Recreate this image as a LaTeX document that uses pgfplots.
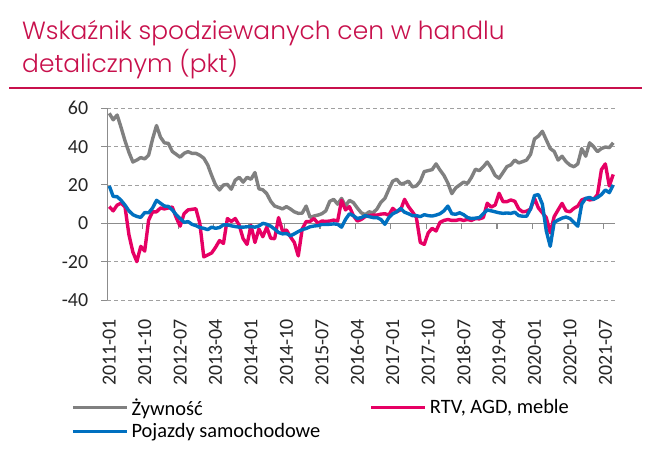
\documentclass[border=0pt]{standalone}
\usepackage{fontspec}
\setmainfont{Carlito}
\newfontfamily\titlefont{Poppins Light}
\usepackage{pgfplots}
\usepackage{pgfplotstable}
\pgfplotsset{compat=1.18}
\definecolor{crim}{RGB}{200,16,76}
\definecolor{cpink}{RGB}{230,0,100}
\definecolor{cgray}{RGB}{128,128,128}
\definecolor{cblue}{RGB}{0,112,192}
\definecolor{gridc}{RGB}{160,160,160}
\definecolor{axc}{RGB}{140,140,140}

\pgfplotstableread{
idx zyw rtv poj
0 57.4 8.7 19.5
1 54 6.5 14
2 56.5 9.5 13.9
3 50 10.5 12
4 43 8.5 9.5
5 37 -6 6.5
6 32 -15 4.5
7 33 -20 3.6
8 34.3 -12 3.1
9 33.6 -14.5 5.6
10 35.6 1.7 5.5
11 44 6 8
12 51 6 12
13 45 8 10.5
14 42 7.5 9
15 41.7 8 8.8
16 37.5 8.5 7
17 36 3 4.5
18 34.5 -1.5 2.5
19 36.5 5 0.5
20 37.4 7 0.9
21 36.5 7.3 -0.5
22 36.5 7.6 -1.2
23 35.5 0 -2.2
24 34 -17.5 -2.6
25 30.5 -16.5 -3.3
26 25 -15.5 -2
27 20 -12.5 -2.6
28 17.4 -9 -2.2
29 20 -10.5 -0.8
30 20.3 2.5 -0.8
31 17.8 1 -1.3
32 22.5 2.5 -1.7
33 24 -1 -2
34 21.5 -8 -2
35 24 -11 -1.8
36 23 -1 -1.7
37 26.5 -10 -2
38 18 -3 -1.4
39 17.5 -7 0
40 15.5 -2 -0.5
41 11.5 -7.8 -1.5
42 9 -8 -3
43 8.3 3 -4.8
44 7.5 -4 -5.5
45 8.7 -3.5 -5.3
46 7.5 -7 -6.5
47 6 -10 -5.5
48 5.2 -17 -4.3
49 5.3 -3 -3.3
50 9 0.9 -2.7
51 3.1 1 -1.8
52 3.8 2.5 -1.4
53 4.3 0 -1.2
54 5 1.2 -0.6
55 6.5 1 -0.6
56 11.5 1.2 -0.5
57 12.5 1.7 -0.3
58 10 1.2 -0.5
59 13 12 -2
60 9 7 2
61 12 8.7 5
62 10.8 4 4
63 8 1.2 2.5
64 5.5 2 3
65 4.5 3.5 4
66 6 4 3.5
67 5.5 4.3 3
68 7.5 4.3 3
69 11 4.8 2
70 13 5 -0.5
71 17.7 4.3 3
72 22 7.8 5
73 23 6 6
74 20.5 7 7.8
75 21 12.5 5.8
76 22 8.7 5
77 19 6 4
78 19.5 3 4
79 22 -10 3.5
80 27 -11 4.5
81 27.5 -5 4
82 28 -2.6 3.8
83 31 -4 4.3
84 27.8 0.5 5
85 25 1.5 6.5
86 21 2 9
87 15.5 1.5 5
88 18.5 1.5 4.7
89 20 2 5.5
90 21.5 1.5 4.5
91 20.8 2 3
92 24 1.5 2.5
93 28.2 2.5 2.7
94 27.5 2.3 3
95 29.5 3 5
96 32 10.5 7
97 29 8.5 6.5
98 25 9.5 6
99 23.5 15.7 5.5
100 26.5 11.3 5.2
101 29.6 11.3 5.4
102 30.5 12.2 5.2
103 33 11.5 5.8
104 31.5 7.5 4
105 32.2 6 3.7
106 33 6.3 3.7
107 36 7.5 7.5
108 44 13 14.5
109 45.5 8 15
110 48 5.5 10
111 43.5 3 -4
112 39 -5 -12
113 37.5 3.5 0.5
114 33 7 1.7
115 35 10.4 2.7
116 32.2 6.5 3.3
117 30.4 6 2.5
118 29.5 7.8 0.5
119 31 9 -1.5
120 39 12.2 10
121 35 13 13
122 42 12.2 13.5
123 40 12.5 12.5
124 37.4 15 13.5
125 39 28 15
126 39.8 31 17.4
127 39.5 19.5 16
128 42 25.5 20
}\datatable

\begin{document}
\begin{tikzpicture}
\path[use as bounding box, fill=white] (0,0) rectangle (650bp,452bp);
\node[anchor=base west, text=crim, font=\titlefont\fontsize{25}{30}\selectfont, inner sep=0pt] at (22bp,412bp) {Wskaźnik spodziewanych cen w handlu};
\node[anchor=base west, text=crim, font=\titlefont\fontsize{25}{30}\selectfont, inner sep=0pt] at (22bp,379bp) {detalicznym (pkt)};
\draw[crim, line width=2.5bp] (9bp,364bp) -- (642bp,364bp);
\begin{axis}[
  at={(107.3bp,152bp)}, anchor=south west, scale only axis,
  width=507.9bp, height=191.7bp,
  xmin=-0.5, xmax=128.5, ymin=-40, ymax=60,
  axis lines*=left,
  x axis line style={draw=none},
  y axis line style={draw=axc, line width=1bp},
  xtick={0,9,18,27,36,45,54,63,72,81,90,99,108,117,126},
  xticklabels={2011-01,2011-10,2012-07,2013-04,2014-01,2014-10,2015-07,2016-04,2017-01,2017-10,2018-07,2019-04,2020-01,2020-10,2021-07},
  xtick style={draw=none},
  ytick={-40,-20,0,20,40,60},
  yticklabels={-40,-20,0,20,40,60},
  ytick style={draw=axc, line width=1bp},
  tick align=outside, major tick length=6bp,
  ymajorgrids,
  grid style={gridc, line width=0.8bp, dash pattern=on 4bp off 3bp},
  ticklabel style={font=\fontsize{20}{24}\selectfont, text=black!85, inner sep=0pt},
  yticklabel style={anchor=east, xshift=-13bp},
  xticklabel style={yshift=-13bp, rotate=90, anchor=east},
  clip=false,
  legend columns=2,
  legend style={draw=none, fill=none, at={(axis description cs:-0.0715,-0.513)}, anchor=north west,
    font=\fontsize{20.5}{24}\selectfont, column sep=0pt, row sep=7bp, inner sep=0pt,
    nodes={inner sep=0pt, anchor=west}},
  legend image code/.code={\draw[#1, line width=3.4bp] (0bp,0bp) -- (54bp,0bp);},
]
\draw[axc, line width=1.2bp] (axis cs:-0.5,0) -- (axis cs:128.5,0);
\pgfplotsinvokeforeach{8.5,17.5,26.5,35.5,44.5,53.5,62.5,71.5,80.5,89.5,98.5,107.5,116.5,125.5}{
  \draw[axc, line width=1.2bp] (axis cs:#1,0) -- ([yshift=-6bp]axis cs:#1,0);
}
\addplot[cgray, line width=3.4bp, line join=round, no markers] table[x=idx, y=zyw]{\datatable};
\addlegendentry{\hspace{3bp}\makebox[238bp][l]{Żywność}}
\addplot[cpink, line width=3.4bp, line join=round, no markers] table[x=idx, y=rtv]{\datatable};
\addlegendentry{\hspace{3bp}RTV, AGD, meble}
\addplot[cblue, line width=3.4bp, line join=round, no markers] table[x=idx, y=poj]{\datatable};
\addlegendentry{\hspace{3bp}Pojazdy samochodowe}
\end{axis}
\end{tikzpicture}
\end{document}
